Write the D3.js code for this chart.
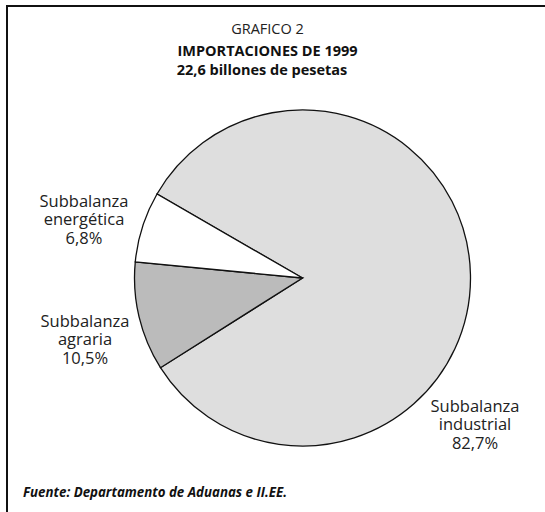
<!DOCTYPE html>
<html>
<head>
<meta charset="utf-8">
<script src="https://cdnjs.cloudflare.com/ajax/libs/d3/7.8.5/d3.min.js"></script>
<style>
  body { margin: 0; background: #fff; }
  svg text { font-family: "Open Sans", "DejaVu Sans", sans-serif; }
</style>
</head>
<body>
<div id="chart"></div>
<script>
// importaciones 1999, % por subbalanza
var categories = ["Subbalanza industrial", "Subbalanza agraria", "Subbalanza energética"]
var shares = [82.7, 10.5, 6.8]
var shareLabels = ["82,7%", "10,5%", "6,8%"]
var fills = ["#dedede", "#bbbbbb", "#ffffff"]

var width = 545, height = 512
var cx = 302.5, cy = 278, radius = 168

var svg = d3.select('#chart').append('svg')
    .attr('width', width)
    .attr('height', height)

// marco (solo arriba e izquierda)
svg.append('path')
    .attr('d', 'M7,' + height + 'V6H' + width)
    .attr('fill', 'none')
    .attr('stroke', '#111')
    .attr('stroke-width', 2)

svg.append('text').attr('x', 267.5).attr('y', 34)
    .attr('text-anchor', 'middle').attr('font-size', 14.5).attr('fill', '#222')
    .text('GRAFICO 2')
svg.append('text').attr('x', 267.5).attr('y', 55.5)
    .attr('text-anchor', 'middle').attr('font-size', 14.5).attr('font-weight', 'bold').attr('fill', '#111')
    .text('IMPORTACIONES DE 1999')
svg.append('text').attr('x', 262).attr('y', 75)
    .attr('text-anchor', 'middle').attr('font-size', 14.5).attr('font-weight', 'bold').attr('fill', '#111')
    .text('22,6 billones de pesetas')

var pie = d3.pie()
    .value(function (d) { return d })
    .sort(null)
    .startAngle(-Math.PI / 3)
    .endAngle(-Math.PI / 3 + 2 * Math.PI)

var arc = d3.arc().innerRadius(0).outerRadius(radius)

var g = svg.append('g').attr('transform', 'translate(' + cx + ',' + cy + ')')
g.selectAll('path')
    .data(pie(shares))
    .enter()
    .append('path')
    .attr('d', arc)
    .attr('fill', function (d, i) { return fills[i] })
    .attr('stroke', '#111')
    .attr('stroke-width', 1.3)
    .attr('stroke-linejoin', 'miter')

// etiquetas: posicion de cada una
var labelPos = [[475, 411.5], [85, 326.5], [84, 206.5]]
categories.forEach(function (c, i) {
    var words = c.split(' ')
    var t = svg.append('text')
        .attr('text-anchor', 'middle')
        .attr('font-size', 16.5)
        .attr('fill', '#222')
    var lines = [words[0], words[1], shareLabels[i]]
    lines.forEach(function (l, j) {
        t.append('tspan')
            .attr('x', labelPos[i][0])
            .attr('y', labelPos[i][1] + j * 18.8)
            .text(l)
    })
})

svg.append('text').attr('x', 23).attr('y', 497)
    .attr('font-size', 13.3).attr('font-weight', 'bold').attr('font-style', 'italic').attr('fill', '#111')
    .text('Fuente: Departamento de Aduanas e II.EE.')
</script>
</body>
</html>
